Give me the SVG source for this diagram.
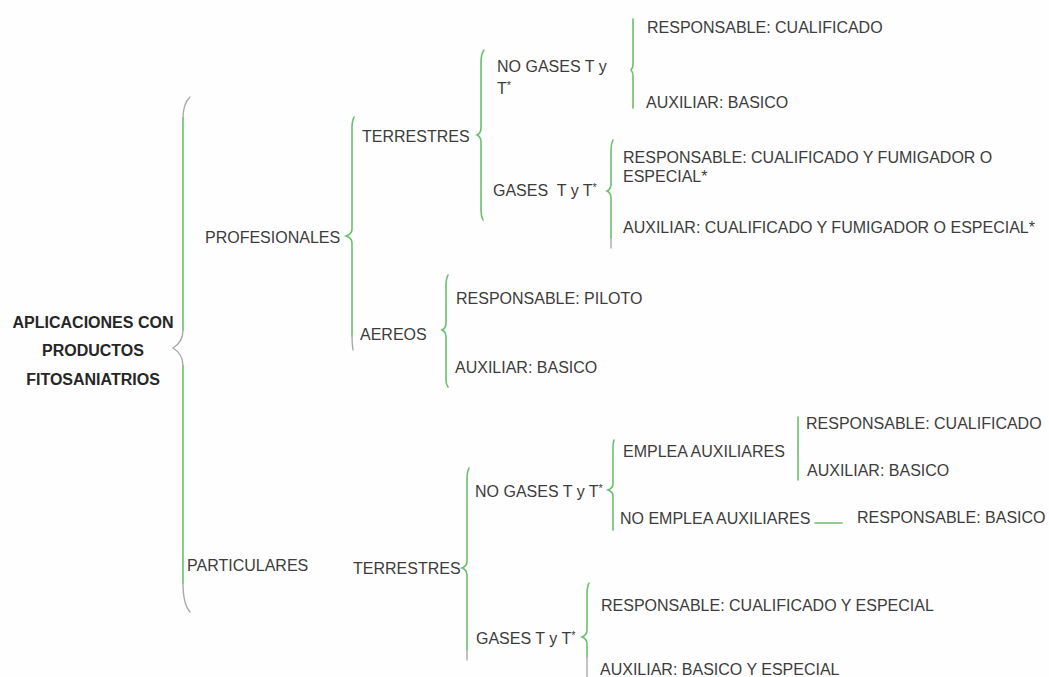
<svg xmlns="http://www.w3.org/2000/svg" width="1049" height="677" viewBox="0 0 1049 677">
<style>
text{font-family:"Liberation Sans",Arial,sans-serif;font-size:16px;fill:#3c3c3c;white-space:pre}
.b{font-weight:bold;fill:#262626}
.sm{font-size:11px}
.g{fill:none;stroke:#6cbf6c;stroke-width:1.6;stroke-linecap:round}
.t{fill:none;stroke:#a9a9a9;stroke-width:1.4;stroke-linecap:round}
</style>
<rect width="1049" height="677" fill="#fefefe"/>
<g id="connectors">
  <!-- main brace -->
  <path class="t" d="M190,97 Q183,104 183,118"/>
  <path class="g" d="M183,118 L183,330"/>
  <path class="t" d="M183,330 Q183,342 173,348 Q183,354 183,366"/>
  <path class="g" d="M183,366 L183,583"/>
  <path class="t" d="M183,583 Q183,604 190,612"/>
  <!-- PROFESIONALES brace -->
  <path class="g" d="M354,117 Q352,121 352,128 L352,229 Q352,234 346,236 Q352,238 352,243 L352,336"/>
  <path class="t" d="M352,336 Q352,344 353,350"/>
  <!-- TERRESTRES upper -->
  <path class="g" d="M484,50 Q481,54 481,62 L481,128 Q481,133 477,135 Q481,137 481,142 L481,210 Q481,216 483,220"/>
  <!-- NO GASES T y upper -->
  <path class="g" d="M633,19 L633,64 Q633,68 631,70 Q633,72 633,76 L633,108"/>
  <!-- GASES T y T* upper -->
  <path class="g" d="M613,140 Q611,144 611,150 L611,184 Q611,189 607,191 Q611,193 611,198 L611,238"/>
  <path class="t" d="M611,238 L611,248"/>
  <!-- AEREOS brace -->
  <path class="g" d="M448,275 Q446,279 446,286 L446,323 Q446,328 442,330 Q446,332 446,337 L446,380 Q446,384 448,387"/>
  <!-- TERRESTRES lower -->
  <path class="g" d="M469,468 Q467,472 467,480 L467,561 Q467,566 462,568 Q467,570 467,575 L467,650"/>
  <path class="t" d="M467,650 L467,660"/>
  <!-- NO GASES T y T* lower -->
  <path class="g" d="M614,440 Q613,443 613,448 L613,484 Q613,488 608,490 Q613,492 613,496 L613,530"/>
  <!-- GASES T y T* lower -->
  <path class="g" d="M589,583 Q587,587 587,594 L587,630 Q587,635 582,637 Q587,639 587,644 L587,657"/>
  <path class="t" d="M587,657 L587,677"/>
  <!-- EMPLEA AUXILIARES bracket -->
  <path class="g" d="M798,417 L798,480"/>
  <!-- NO EMPLEA -> RESPONSABLE line -->
  <path class="g" d="M815,523 L842,523"/>
</g>
<g id="root"><text class="b" x="93" y="328" text-anchor="middle">APLICACIONES CON</text><text class="b" x="93" y="356" text-anchor="middle">PRODUCTOS</text><text class="b" x="93" y="385" text-anchor="middle">FITOSANIATRIOS</text></g>
<g id="profesionales"><text x="205" y="243">PROFESIONALES</text></g>
<g id="particulares"><text x="187" y="571">PARTICULARES</text></g>
<g id="terrestres-prof"><text x="362" y="142">TERRESTRES</text></g>
<g id="aereos"><text x="360" y="340">AEREOS</text></g>
<g id="nogases-prof"><text x="497" y="72">NO GASES T y</text><text x="497" y="94">T<tspan class="sm" dy="-5">*</tspan></text></g>
<g id="gases-prof"><text x="493" y="196">GASES  T y T<tspan class="sm" dy="-5">*</tspan></text></g>
<g id="resp-cual-1"><text x="647" y="33">RESPONSABLE: CUALIFICADO</text></g>
<g id="aux-bas-1"><text x="646" y="108">AUXILIAR: BASICO</text></g>
<g id="resp-fum"><text x="623" y="163">RESPONSABLE: CUALIFICADO Y FUMIGADOR O</text><text x="623" y="182">ESPECIAL*</text></g>
<g id="aux-fum"><text x="623" y="233">AUXILIAR: CUALIFICADO Y FUMIGADOR O ESPECIAL*</text></g>
<g id="resp-piloto"><text x="456" y="304">RESPONSABLE: PILOTO</text></g>
<g id="aux-bas-aereo"><text x="455" y="373">AUXILIAR: BASICO</text></g>
<g id="terrestres-part"><text x="353" y="574">TERRESTRES</text></g>
<g id="nogases-part"><text x="475" y="497">NO GASES T y T<tspan class="sm" dy="-5">*</tspan></text></g>
<g id="emplea"><text x="623" y="457">EMPLEA AUXILIARES</text></g>
<g id="no-emplea"><text x="620" y="524">NO EMPLEA AUXILIARES</text></g>
<g id="resp-basico"><text x="857" y="523">RESPONSABLE: BASICO</text></g>
<g id="resp-cual-2"><text x="806" y="429">RESPONSABLE: CUALIFICADO</text></g>
<g id="aux-bas-2"><text x="807" y="476">AUXILIAR: BASICO</text></g>
<g id="gases-part"><text x="476" y="644">GASES T y T<tspan class="sm" dy="-5">*</tspan></text></g>
<g id="resp-esp"><text x="601" y="611">RESPONSABLE: CUALIFICADO Y ESPECIAL</text></g>
<g id="aux-esp"><text x="600" y="675">AUXILIAR: BASICO Y ESPECIAL</text></g>
</svg>
